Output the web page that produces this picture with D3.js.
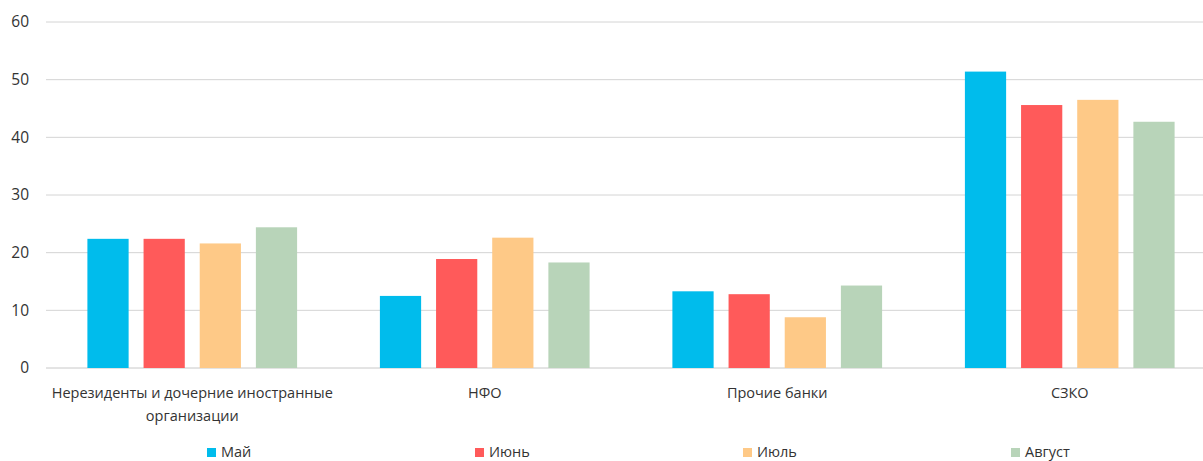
<!DOCTYPE html>
<html>
<head>
<meta charset="utf-8">
<script src="https://cdn.jsdelivr.net/npm/d3@7"></script>
<style>
  html, body { margin: 0; padding: 0; background: #fff; }
  svg { display: block; font-family: "Open Sans", sans-serif; }
</style>
</head>
<body>
<svg id="chart" width="1203" height="461"></svg>
<script>
// ---- Data ----
const categories = ['Нерезиденты и дочерние иностранные организации', 'НФО', 'Прочие банки', 'СЗКО'];
const seriesNames = ['Май', 'Июнь', 'Июль', 'Август'];
const may = [22.4, 12.5, 13.3, 51.4];
const june = [22.4, 18.9, 12.8, 45.6];
const july = [21.6, 22.6, 8.8, 46.5];
const august = [24.4, 18.3, 14.3, 42.7];
const yTicks = [0, 10, 20, 30, 40, 50, 60];

const seriesValues = [may, june, july, august];
const colors = ['#00bcec', '#ff5a5a', '#fec987', '#b8d4b9'];

// ---- Layout ----
const svg = d3.select('#chart');
const width = +svg.attr('width');
const margin = {top: 22, left: 46, plotRight: 1216, bottom: 368};

const x0 = d3.scaleBand().domain(categories).range([margin.left, margin.plotRight]).paddingInner(0).paddingOuter(0);
const x1 = d3.scaleBand().domain(seriesNames).range([41.4, x0.bandwidth() - 41.4]).paddingInner(0.266);
const y = d3.scaleLinear().domain([0, 60]).range([margin.bottom, margin.top]);

// ---- Gridlines ----
svg.append('g')
  .selectAll('line')
  .data(yTicks)
  .join('line')
  .attr('x1', margin.left)
  .attr('x2', width)
  .attr('y1', d => y(d))
  .attr('y2', d => y(d))
  .attr('stroke', d => d === 0 ? '#c8c8c8' : '#d4d4d4')
  .attr('stroke-width', 1);

// ---- Y axis labels ----
const yAxis = d3.axisLeft(y).tickValues(yTicks).tickSize(0).tickPadding(17);
svg.append('g')
  .attr('transform', `translate(${margin.left},0)`)
  .call(yAxis)
  .call(g => g.select('.domain').remove())
  .call(g => g.selectAll('text').attr('fill', '#333').attr('font-size', 15.5).attr('font-family', '"Open Sans", sans-serif'));

// ---- Bars ----
const groups = svg.append('g')
  .selectAll('g')
  .data(categories)
  .join('g')
  .attr('transform', d => `translate(${x0(d)},0)`);

groups.selectAll('rect')
  .data((d, i) => seriesNames.map((s, j) => ({series: s, value: seriesValues[j][i], color: colors[j]})))
  .join('rect')
  .attr('x', d => x1(d.series))
  .attr('width', x1.bandwidth())
  .attr('y', d => y(d.value))
  .attr('height', d => y(0) - y(d.value))
  .attr('fill', d => d.color);

// ---- Category labels (wrapped) ----
const catG = svg.append('g')
  .attr('font-size', 14.5)
  .attr('fill', '#333')
  .attr('text-anchor', 'middle');

categories.forEach(c => {
  const cx = x0(c) + x0.bandwidth() / 2;
  const t = catG.append('text').attr('x', cx).attr('y', 398);
  const words = c.split(' ');
  let line = [];
  let tspan = t.append('tspan').attr('x', cx).attr('dy', 0);
  words.forEach(w => {
    line.push(w);
    tspan.text(line.join(' '));
    if (tspan.node().getComputedTextLength() > x0.bandwidth() - 4 && line.length > 1) {
      line.pop();
      tspan.text(line.join(' '));
      line = [w];
      tspan = t.append('tspan').attr('x', cx).attr('dy', 23).text(w);
    }
  });
});

// ---- Legend ----
const lx = d3.scalePoint().domain(seriesNames).range([207, 1011]);
const legend = svg.append('g')
  .selectAll('g')
  .data(seriesNames)
  .join('g')
  .attr('transform', d => `translate(${lx(d)},0)`);

legend.append('rect')
  .attr('x', 0)
  .attr('y', 448)
  .attr('width', 9)
  .attr('height', 9)
  .attr('fill', (d, i) => colors[i]);

legend.append('text')
  .attr('x', 14)
  .attr('y', 457)
  .attr('font-size', 14.5)
  .attr('fill', '#333')
  .text(d => d);
</script>
</body>
</html>
